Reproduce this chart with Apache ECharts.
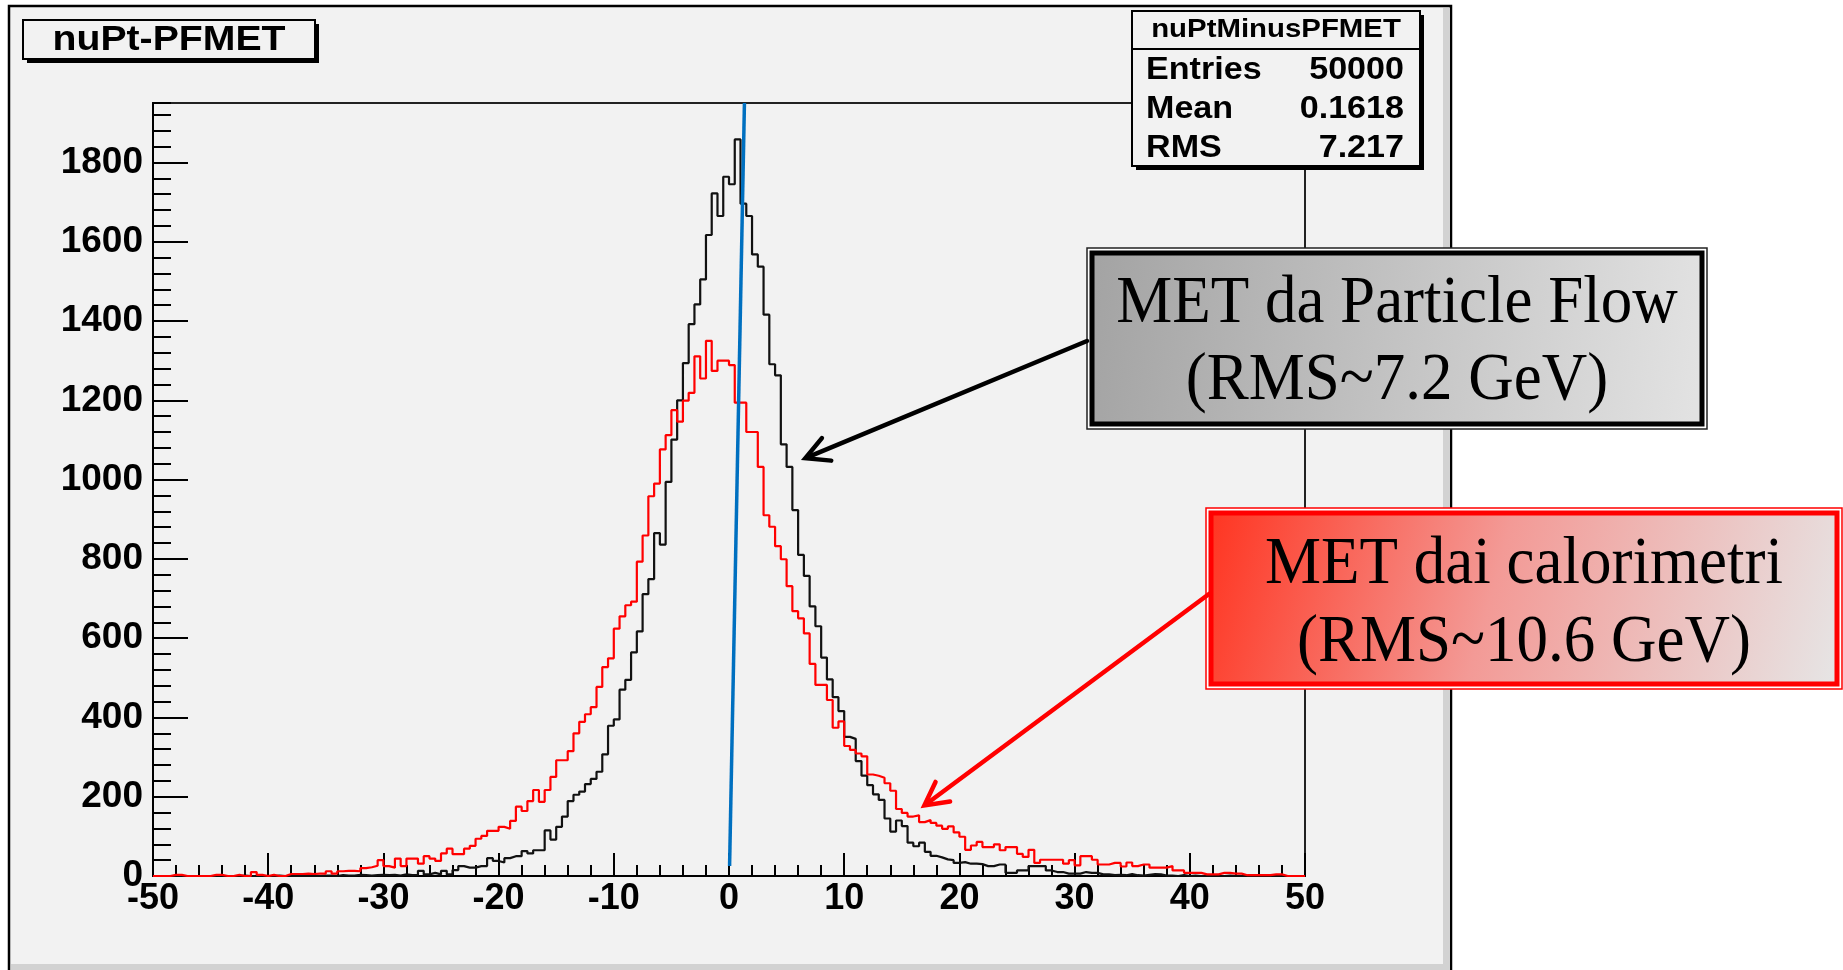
<!DOCTYPE html>
<html>
<head>
<meta charset="utf-8">
<script src="https://cdn.jsdelivr.net/npm/echarts@6/dist/echarts.min.js"></script>
<style>
html,body{margin:0;padding:0;background:#ffffff;}
#c{width:1843px;height:970px;}
</style>
</head>
<body>
<div id="c"></div>
<script>
// ---------------- DATA ----------------
const BIN_MIN = -50;
const BIN_WIDTH = 0.5;
const xRange = [-50, 50];
const yRange = [0, 1950];
const xTickStep = 10;
const yTickStep = 200;
const yMinorStep = 40;

// nuPt - PFMET (Particle Flow), 200 bins of 0.5 from -50 to 50
const pfCounts = [
  0,0,0,0,0,0,0,0,0,0, 0,0,0,0,0,1,0,0,0,0, 0,1,0,0,1,0,0,1,0,1, 1,0,2,1,1,3,2,1,2,
  3,2,3,1,4,2,3,13,4,8, 4,13,4,15,25,21,21,25,25,45, 38,34,45,50,50,63,57,65,65,115, 92,124,
  150,189,205,213,232,245,263,307,379,395, 470,495,564,617,711,749,865,836,994,1101,
  1200,1294,1392,1442,1505,1617,1722,1665,1764,1745, 1858,
  1696,1665,1568,1537,1416,1291,1263,1089,1032,923, 810,757,680,630,551,496,451,416,351,346,
  290,253,229,206,192,145,112,140,126,84, 75,84,61,51,47,42,40,33,
  35,31,31,30,25,25,29,29,8,8, 14,14,25,25,25,14,10,10,6,6, 6,10,8,8,4,4,2,3,2,5,
  2,1,3,5,4,1,1,0,2,0, 1,0,0,1,0,0,1,0,0,0, 0,0,0,0,0,0,0,0,0,0
];

// MET from calorimeters, same binning
const caloCounts = [
  0,0,0,3,3,0,0,0,0,0, 3,3,0,0,3,0,0,10,3,0, 3,0,0,5,5,5,6,5,6,6, 12,6,12,13,13,12,20,22,26,
  40,25,21,44,25,44,44,31,50,44, 38,57,69,55,55,69,76,94,101,114, 114,124,119,139,175,164,189,217,187,217, 250,292,292,315,360,
  389,408,426,477,527,549,624,655,683,692, 793,859,958,990,1076,1112,1175,1146,1199,1219,
  1311,1255,1350,1274,1300,1300,1289,1194,1194,1120, 1120,1032,910,881,
  832,799,731,668,650,612,535,482,482,444, 374,390,328,318,309,302,256,253,248,234,
  215,169,159,150,153,136,141,134,127,119, 125,110,99,
  66,77,86,73,73,80,65,73,73,56, 48,66,33,41,41,41,41,31,40,27, 50,50,41,29,29,33,33,24,34,25,
  29,29,21,21,21,25,14,14,8,8, 8,4,4,4,8,8,6,6,2,2, 2,2,2,4,4,0,0,0,0
];

// hand-drawn blue reference line (x, y in data units)
const blueLineX = [0.05, 1.34];
const blueLineY = [25, 1950];

// arrow tips (data units)
const arrowTipPF = [6.63, 1054];
const arrowTipCalo = [16.96, 178];

const titleText = 'nuPt-PFMET';
const statsTitle = 'nuPtMinusPFMET';
const statsLabels = ['Entries', 'Mean', 'RMS'];
const statsValues = ['50000', '0.1618', '7.217'];
const pfNoteLines = ['MET da Particle Flow', '(RMS~7.2 GeV)'];
const caloNoteLines = ['MET dai calorimetri', '(RMS~10.6 GeV)'];

// ---------------- BUILD ----------------
// each bin: point at its low edge; 'end' step draws the flat top to the next edge
function stepData(counts) {
  const d = counts.map((v, i) => [BIN_MIN + i * BIN_WIDTH, v]);
  d.push([BIN_MIN + counts.length * BIN_WIDTH, counts[counts.length - 1]]);
  return d;
}

const SANS = '"Liberation Sans", Arial, Helvetica, sans-serif';
const SERIF = '"Liberation Serif", "Times New Roman", Times, serif';

const GRID = {left: 153, top: 103, width: 1152, height: 773};

const option = {
  animation: false,
  backgroundColor: '#ffffff',
  grid: {
    left: GRID.left, top: GRID.top, width: GRID.width, height: GRID.height,
    show: true, borderColor: '#222', borderWidth: 2, backgroundColor: 'transparent',
    containLabel: false
  },
  xAxis: {
    type: 'value', min: xRange[0], max: xRange[1], interval: xTickStep,
    axisLine: {show: true, onZero: false, lineStyle: {color: '#000', width: 2}},
    axisTick: {show: true, inside: true, length: 23, lineStyle: {color: '#000', width: 2}},
    minorTick: {show: true, splitNumber: 5, length: 11, lineStyle: {color: '#000', width: 2}},
    axisLabel: {show: true, color: '#000', fontFamily: SANS, fontWeight: 'bold', fontSize: 36, margin: 5,
      formatter: v => String(v)},
    splitLine: {show: false}, minorSplitLine: {show: false}
  },
  yAxis: [
    {
      type: 'value', min: yRange[0], max: yRange[1], interval: yTickStep, position: 'left', offset: 0,
      axisLine: {show: true, onZero: false, lineStyle: {color: '#000', width: 2}},
      axisTick: {show: true, inside: true, length: 35, lineStyle: {color: '#000', width: 2}},
      axisLabel: {show: true, color: '#000', fontFamily: SANS, fontWeight: 'bold', fontSize: 37, margin: 10,
        showMaxLabel: false, formatter: v => String(v)},
      splitLine: {show: false}
    },
    {
      type: 'value', min: yRange[0], max: yRange[1], interval: yMinorStep, position: 'left', offset: 0,
      axisLine: {show: false, onZero: false},
      axisTick: {show: true, inside: true, length: 18, lineStyle: {color: '#000', width: 2}},
      axisLabel: {show: false},
      splitLine: {show: false}
    }
  ],
  series: [
    {
      name: 'PF', type: 'line', step: 'end', symbol: 'none', yAxisIndex: 0,
      data: stepData(pfCounts),
      lineStyle: {color: '#111', width: 2.2}, z: 3
    },
    {
      name: 'Calo', type: 'line', step: 'end', symbol: 'none', yAxisIndex: 0,
      data: stepData(caloCounts),
      lineStyle: {color: '#ff0000', width: 2.2}, z: 4
    },
    {
      name: 'ref', type: 'line', symbol: 'none', yAxisIndex: 0,
      data: blueLineX.map((x, i) => [x, blueLineY[i]]),
      lineStyle: {color: '#0070c0', width: 3.5}, z: 5
    }
  ]
};

const chart = echarts.init(document.getElementById('c'), null, {renderer: 'canvas', width: 1843, height: 970});
chart.setOption(option);

function arrow(tail, tip, color, lw) {
  const dx = tail[0] - tip[0], dy = tail[1] - tip[1];
  const L = Math.hypot(dx, dy);
  const ux = dx / L, uy = dy / L;
  const a = 28 * Math.PI / 180, len = 26;
  const r = s => [ux * Math.cos(s * a) - uy * Math.sin(s * a), ux * Math.sin(s * a) + uy * Math.cos(s * a)];
  const p1 = r(1), p2 = r(-1);
  return [
    {type: 'line', z: 30, shape: {x1: tail[0], y1: tail[1], x2: tip[0] + ux * 2, y2: tip[1] + uy * 2},
      style: {stroke: color, lineWidth: lw, lineCap: 'round'}},
    {type: 'polyline', z: 30, shape: {points: [[tip[0] + p1[0] * len, tip[1] + p1[1] * len], tip, [tip[0] + p2[0] * len, tip[1] + p2[1] * len]]},
      style: {stroke: color, lineWidth: lw, fill: 'none', lineJoin: 'miter', lineCap: 'round'}}
  ];
}

const tipPF = chart.convertToPixel({xAxisIndex: 0, yAxisIndex: 0}, arrowTipPF);
const tipCalo = chart.convertToPixel({xAxisIndex: 0, yAxisIndex: 0}, arrowTipCalo);

const graphics = [];
// ROOT canvas background
graphics.push({type: 'rect', z: -10, silent: true, shape: {x: 9, y: 6, width: 1442, height: 990},
  style: {fill: '#f2f2f2', stroke: '#000', lineWidth: 2.5}});
graphics.push({type: 'rect', z: -9, silent: true, shape: {x: 1443, y: 8, width: 7, height: 962}, style: {fill: '#d2d2d2'}});
graphics.push({type: 'rect', z: -9, silent: true, shape: {x: 11, y: 964, width: 1439, height: 6}, style: {fill: '#d2d2d2'}});

// title box
graphics.push({type: 'rect', z: 20, shape: {x: 27, y: 24, width: 292, height: 39}, style: {fill: '#000'}});
graphics.push({type: 'rect', z: 21, shape: {x: 23, y: 20, width: 292, height: 39}, style: {fill: '#f2f2f2', stroke: '#000', lineWidth: 2}});
graphics.push({type: 'text', z: 22, x: 169, y: 40, scaleX: 1.12,
  style: {text: titleText, font: 'bold 35px ' + SANS, fill: '#000', align: 'center', verticalAlign: 'middle'}});

// stats box
graphics.push({type: 'rect', z: 20, shape: {x: 1136, y: 15, width: 288, height: 155}, style: {fill: '#000'}});
graphics.push({type: 'rect', z: 21, shape: {x: 1132, y: 11, width: 288, height: 155}, style: {fill: '#f2f2f2', stroke: '#000', lineWidth: 2}});
graphics.push({type: 'line', z: 22, shape: {x1: 1132, y1: 49, x2: 1420, y2: 49}, style: {stroke: '#000', lineWidth: 2}});
graphics.push({type: 'text', z: 22, x: 1276, y: 30, scaleX: 1.13,
  style: {text: statsTitle, font: 'bold 26px ' + SANS, fill: '#000', align: 'center', verticalAlign: 'middle'}});
const rowY = [70, 109, 148];
statsLabels.forEach((lab, i) => {
  graphics.push({type: 'text', z: 22, x: 1146, y: rowY[i], scaleX: 1.1,
    style: {text: lab, font: 'bold 31px ' + SANS, fill: '#000', align: 'left', verticalAlign: 'middle'}});
  graphics.push({type: 'text', z: 22, x: 1404, y: rowY[i], scaleX: 1.1,
    style: {text: statsValues[i], font: 'bold 31px ' + SANS, fill: '#000', align: 'right', verticalAlign: 'middle'}});
});

// PF annotation box (gray)
graphics.push({type: 'rect', z: 25, shape: {x: 1087, y: 248, width: 620, height: 181}, style: {fill: '#ffffff', stroke: '#222', lineWidth: 1.5}});
graphics.push({type: 'rect', z: 26, shape: {x: 1092, y: 253, width: 610, height: 171},
  style: {stroke: '#000', lineWidth: 5,
    fill: {type: 'linear', x: 0, y: 0, x2: 1, y2: 0.4, colorStops: [{offset: 0, color: '#a3a3a3'}, {offset: 1, color: '#e2e2e2'}]}}});
pfNoteLines.forEach((t, i) => {
  graphics.push({type: 'text', z: 27, x: 1397, y: [304, 381][i], scaleY: 1.08,
    style: {text: t, font: '63px ' + SERIF, fill: '#000', align: 'center', verticalAlign: 'middle'}});
});

// Calo annotation box (red)
graphics.push({type: 'rect', z: 25, shape: {x: 1206, y: 508, width: 636, height: 181}, style: {fill: '#ffffff', stroke: '#ff0000', lineWidth: 1.5}});
graphics.push({type: 'rect', z: 26, shape: {x: 1211, y: 513, width: 626, height: 171},
  style: {stroke: '#ff0000', lineWidth: 5,
    fill: {type: 'linear', x: 0, y: 0, x2: 1, y2: 1, colorStops: [{offset: 0, color: '#ff3420'}, {offset: 0.45, color: '#f39a96'}, {offset: 1, color: '#e6e6e6'}]}}});
caloNoteLines.forEach((t, i) => {
  graphics.push({type: 'text', z: 27, x: 1524, y: [565, 643][i], scaleY: 1.08,
    style: {text: t, font: '63px ' + SERIF, fill: '#000', align: 'center', verticalAlign: 'middle'}});
});

// arrows
arrow([1087, 341], tipPF, '#000', 4.5).forEach(g => graphics.push(g));
arrow([1209, 594], tipCalo, '#ff0000', 4.5).forEach(g => graphics.push(g));

chart.setOption({graphic: {elements: graphics}});
</script>
</body>
</html>
